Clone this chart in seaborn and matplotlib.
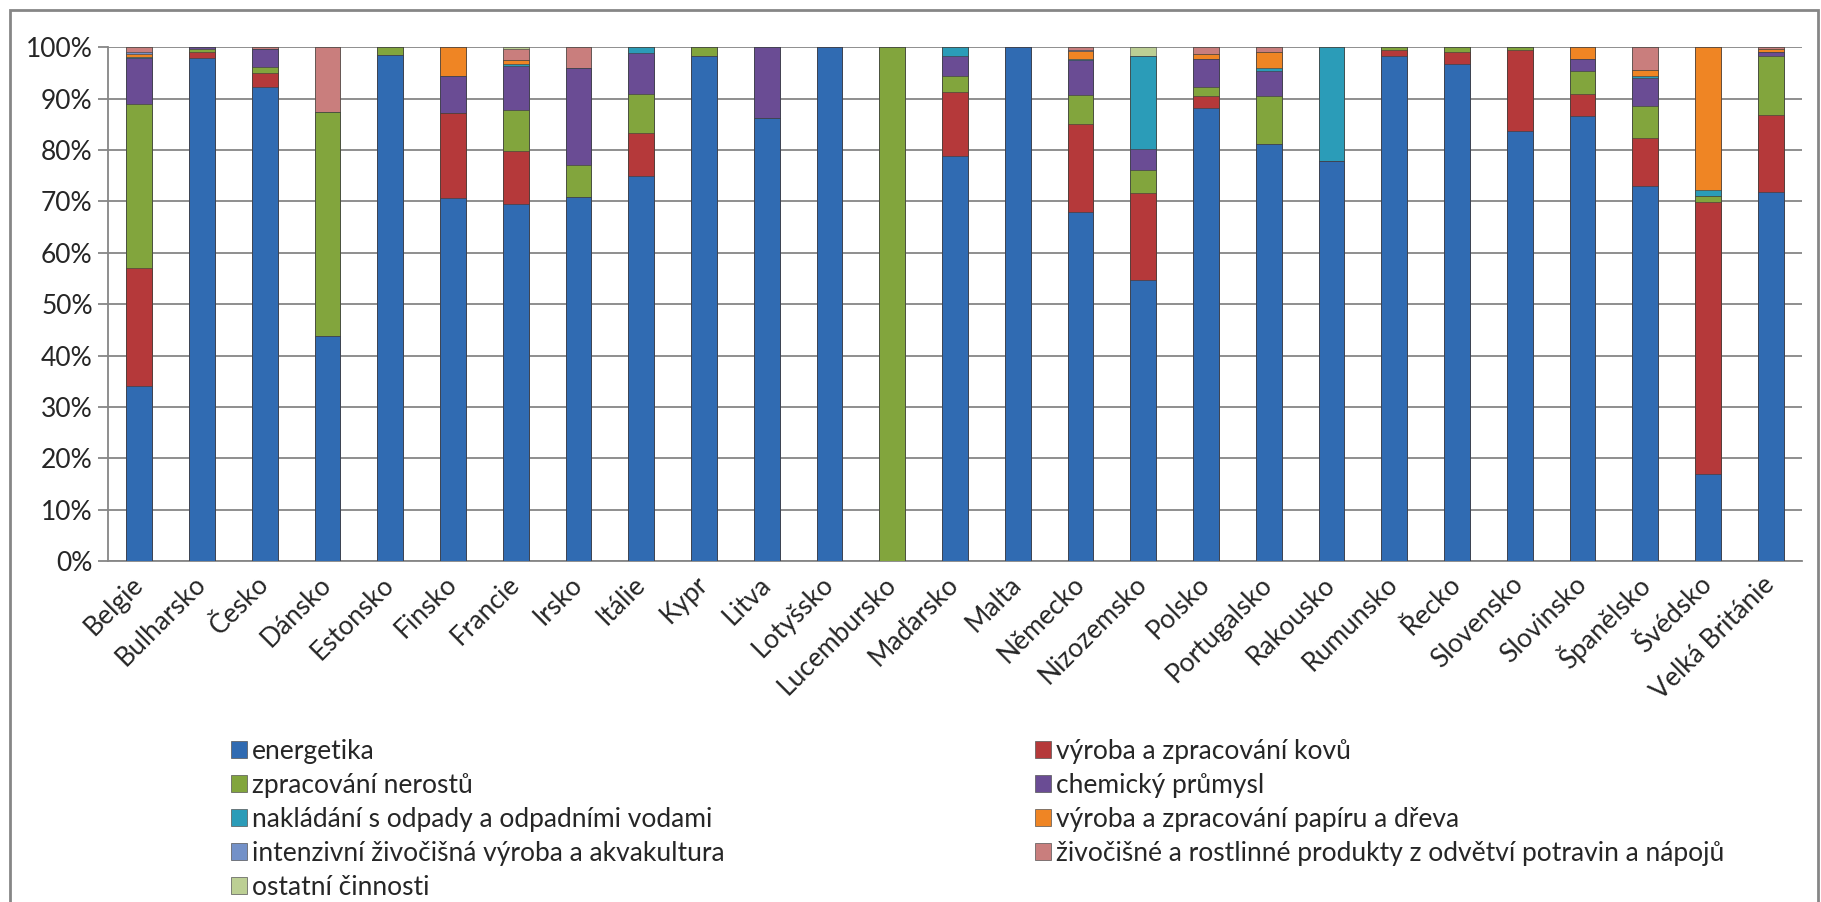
import numpy as np
import pandas as pd
import seaborn as sns
import matplotlib.pyplot as plt
from matplotlib.patches import Patch, Rectangle
from matplotlib.ticker import FixedLocator, PercentFormatter

zeme = ["Belgie", "Bulharsko", "Česko", "Dánsko", "Estonsko", "Finsko", "Francie",
        "Irsko", "Itálie", "Kypr", "Litva", "Lotyšsko", "Lucembursko", "Maďarsko",
        "Malta", "Německo", "Nizozemsko", "Polsko", "Portugalsko", "Rakousko",
        "Rumunsko", "Řecko", "Slovensko", "Slovinsko", "Španělsko", "Švédsko",
        "Velká Británie"]

energetika = [34.0, 98.0, 92.3, 43.8, 98.6, 70.6, 69.5, 70.9, 74.9, 98.4, 86.3, 100, 0,
              78.9, 100, 67.8, 54.8, 88.2, 81.2, 77.8, 98.4, 96.7, 83.8, 86.6, 73.0, 16.9, 71.8]
kovy = [23.0, 1.0, 2.7, 0, 0, 16.6, 10.4, 0, 8.4, 0, 0, 0, 0,
        12.4, 0, 17.1, 16.8, 2.3, 0, 0, 1.0, 2.4, 15.6, 4.3, 9.4, 52.9, 15.0]
nerosty = [32.0, 0.7, 1.2, 43.7, 1.4, 0, 8.0, 6.2, 7.6, 1.6, 0, 0, 100,
           3.1, 0, 5.8, 4.5, 1.7, 9.3, 0, 0.6, 0.9, 0.6, 4.4, 6.2, 1.3, 11.6]
chemie = [9.0, 0.3, 3.5, 0, 0, 7.2, 8.5, 18.9, 8.0, 0, 13.7, 0, 0,
          4.0, 0, 6.7, 4.2, 5.6, 4.8, 0, 0, 0, 0, 2.4, 5.5, 0, 0.7]
odpady = [0.2, 0, 0, 0, 0, 0, 0.3, 0, 1.1, 0, 0, 0, 0,
          1.6, 0, 0.3, 18.1, 0, 0.7, 22.2, 0, 0, 0, 0, 0.3, 1.2, 0]
papir = [0.6, 0, 0, 0, 0, 5.6, 0.8, 0, 0, 0, 0, 0, 0,
         0, 0, 1.4, 0, 1.0, 3.1, 0, 0, 0, 0, 2.3, 1.1, 27.7, 0.6]
intenzivni = [0.2, 0, 0, 0, 0, 0, 0, 0, 0, 0, 0, 0, 0,
              0, 0, 0.2, 0, 0, 0, 0, 0, 0, 0, 0, 0, 0, 0]
potraviny = [1.0, 0, 0.3, 12.5, 0, 0, 2.2, 4.0, 0, 0, 0, 0, 0,
             0, 0, 0.6, 0, 1.2, 0.9, 0, 0, 0, 0, 0, 4.5, 0, 0.3]
ostatni = [0, 0, 0, 0, 0, 0, 0.3, 0, 0, 0, 0, 0, 0,
           0, 0, 0, 1.6, 0, 0, 0, 0, 0, 0, 0, 0, 0, 0]

nazvy = ["energetika", "výroba a zpracování kovů", "zpracování nerostů",
         "chemický průmysl", "nakládání s odpady a odpadními vodami",
         "výroba a zpracování papíru a dřeva",
         "intenzivní živočišná výroba a akvakultura",
         "živočišné a rostlinné produkty z odvětví potravin a nápojů",
         "ostatní činnosti"]
barvy = ["#306BB2", "#B5393A", "#82A53D", "#6A4C94", "#2B9CB8",
         "#EF8524", "#7391C8", "#C97E7D", "#BCCF94"]

serie = [energetika, kovy, nerosty, chemie, odpady, papir, intenzivni, potraviny, ostatni]
data = np.array(serie, dtype=float)
data = data / data.sum(axis=0) * 100
kumul = np.cumsum(data, axis=0)

sns.set_theme(style="white")
plt.rcParams['font.family'] = ['Lato', 'DejaVu Sans']

fig = plt.figure(figsize=(18.21, 9.02), dpi=100)
ax = fig.add_axes([0.0593, 0.378, 0.9303, 0.5695])

# prekryvani kumulativnich sloupcu, od nejvyssiho k nejnizsimu
for i in range(len(serie) - 1, -1, -1):
    df = pd.DataFrame({"zeme": zeme, "hodnota": kumul[i]})
    sns.barplot(data=df, x="zeme", y="hodnota", color=barvy[i], width=0.41,
                errorbar=None, saturation=1, ax=ax,
                edgecolor="#3a3a3a", linewidth=0.4, zorder=3)

seda = "#868686"
ax.set_xlim(-0.5, len(zeme) - 0.5)
ax.set_ylim(0, 100)
ax.yaxis.set_major_locator(FixedLocator(np.arange(0, 101, 10)))
ax.yaxis.set_major_formatter(PercentFormatter(decimals=0))
ax.grid(axis="y", color=seda, linewidth=1.3, zorder=0)
ax.set_axisbelow(True)
for s in ["top", "right"]:
    ax.spines[s].set_visible(False)
for s in ["left", "bottom"]:
    ax.spines[s].set_color(seda)
    ax.spines[s].set_linewidth(1.3)
ax.set_xlabel("")
ax.set_ylabel("")

ax.xaxis.set_minor_locator(FixedLocator(np.arange(-0.5, len(zeme), 1)))
ax.tick_params(axis="x", which="major", length=0, pad=14)
ax.tick_params(axis="x", which="minor", length=8, color=seda, width=1.3, direction="out")
ax.tick_params(axis="y", length=7, color=seda, width=1.3, direction="out", left=True,
               labelsize=19, pad=4)
ax.set_xticks(range(len(zeme)))
ax.set_xticklabels(zeme, rotation=45, ha="right", va="center",
                   rotation_mode="anchor", fontsize=19)

# legenda ve dvou sloupcich (po radcich jako v Excelu)
handles = [Patch(facecolor=barvy[i], edgecolor="#555555", linewidth=0.5) for i in range(len(nazvy))]
leva = [0, 2, 4, 6, 8]
prava = [1, 3, 5, 7]
spol = dict(frameon=False, fontsize=19, handlelength=0.6, handleheight=0.6,
            handletextpad=0.2, labelspacing=0.34, borderpad=0, borderaxespad=0)
fig.legend([handles[i] for i in leva], [nazvy[i] for i in leva],
           loc="upper left", bbox_to_anchor=(231 / 1821, 1 - 739 / 902), **spol)
fig.legend([handles[i] for i in prava], [nazvy[i] for i in prava],
           loc="upper left", bbox_to_anchor=(1035 / 1821, 1 - 739 / 902), **spol)

# ramecek grafu
fig.patches.append(Rectangle((10 / 1821, -0.01), 1808 / 1821, 1 - 10 / 902 + 0.01,
                             transform=fig.transFigure, fill=False,
                             edgecolor=seda, linewidth=2))

fig.savefig("out.png", dpi=100)
